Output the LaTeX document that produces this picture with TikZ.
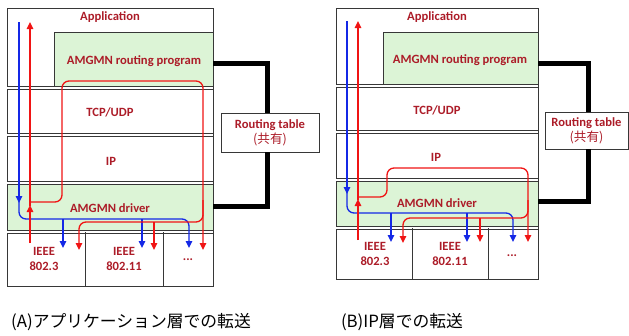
\documentclass[tikz,border=0pt]{standalone}
\usepackage{fontspec}
\setmainfont{Carlito}
\newfontfamily\cjk{Noto Sans CJK JP}
\usetikzlibrary{arrows.meta}
\definecolor{lblred}{RGB}{172,28,40}
\definecolor{boxgreen}{RGB}{220,244,214}
\definecolor{edgegray}{RGB}{55,55,55}
\definecolor{arrred}{RGB}{240,20,20}
\definecolor{arrblue}{RGB}{20,40,230}
\tikzset{
  layer/.style={draw=edgegray,line width=1pt},
  dbl/.style={draw=edgegray,double=white,double distance=1.3pt,line width=0.9pt},
  lbl/.style={text=lblred,font=\bfseries\fontsize{12.6}{14}\selectfont,align=center,inner sep=0pt},
  tbl/.style={draw=edgegray,line width=1pt,fill=white},
  link/.style={line width=5pt,draw=black},
  tip/.style={-{Triangle[length=7pt,width=6.5pt]}},
  rflow/.style={draw=arrred,line width=1.3pt,rounded corners=7pt},
  bflow/.style={draw=arrblue,line width=1.3pt,rounded corners=7pt},
  captext/.style={font=\cjk\fontsize{16.8}{18}\selectfont,inner sep=0pt}
}
\begin{document}
\begin{tikzpicture}[x=1pt,y=-1pt]
\useasboundingbox (0,0) rectangle (629,335);
% ================= (A) =================
\fill[boxgreen] (54,32) rectangle (213,88);
\fill[boxgreen] (7,183) rectangle (213,232);
\draw[layer] (54,88) -- (54,32) -- (213,32);
\draw[layer] (7,8) rectangle (213,286);
\draw[dbl] (7,88) -- (213,88);
\draw[dbl] (7,135) -- (213,135);
\draw[dbl] (7,183) -- (213,183);
\draw[dbl] (7,232) -- (213,232);
\draw[layer] (85,232) -- (85,286);
\draw[layer] (163,232) -- (163,286);
\node[lbl] (appA) at (110,17) {Application};
\node[lbl] (progA) at (134,61) {AMGMN routing program};
\node[lbl] (tcpA) at (110,112) {TCP/UDP};
\node[lbl] (ipA) at (111,161) {IP};
\node[lbl] (drvA) at (110,208) {AMGMN driver};
\node[lbl] (e3A) at (44,259) {IEEE\\[1pt]802.3};
\node[lbl] (e11A) at (124,259) {IEEE\\[1pt]802.11};
\node[lbl] (dotA) at (188,260) {...};
\node[tbl,minimum width=98pt,minimum height=39pt] (rtA) at (270,132.5) {};
\node[lbl] at (rtA) {Routing table\\[1pt]{\cjk\mdseries(共有)}};
\coordinate (pA) at (213,63);
\coordinate (dA) at (213,206);
\draw[link] (pA) -- (267,63) -- (267,113);
\draw[link] (267,152) -- (267,206) -- (dA);
% flows A
\draw[bflow,tip] (19,22) -- (19,203);
\draw[bflow,tip] (19,200) -- (19,219) -- (189,219) -- (189,248);
\draw[bflow,tip] (63,219) -- (63,248);
\draw[bflow,tip] (142,219) -- (142,248);
\draw[rflow,tip] (30,243) -- (30,205);
\draw[rflow,tip] (30,206) -- (30,22);
\draw[rflow,tip] (30,202) -- (62,202) -- (62,81) -- (203,81) -- (203,250);
\draw[rflow,tip] (203,200) -- (203,222) -- (79,222) -- (79,250);
\draw[rflow,tip] (154,222) -- (154,250);
% ================= (B) =================
\fill[boxgreen] (383,32) rectangle (538,86);
\fill[boxgreen] (336,180) rectangle (538,228);
\draw[layer] (383,86) -- (383,32) -- (538,32);
\draw[layer] (336,8) rectangle (538,279);
\draw[dbl] (336,86) -- (538,86);
\draw[dbl] (336,132) -- (538,132);
\draw[dbl] (336,180) -- (538,180);
\draw[dbl] (336,228) -- (538,228);
\draw[layer] (412,228) -- (412,279);
\draw[layer] (488,228) -- (488,279);
\node[lbl] (appB) at (437,17) {Application};
\node[lbl] (progB) at (460,60) {AMGMN routing program};
\node[lbl] (tcpB) at (437,110) {TCP/UDP};
\node[lbl] (ipB) at (436,157) {IP};
\node[lbl] (drvB) at (437,203) {AMGMN driver};
\node[lbl] (e3B) at (375,254) {IEEE\\[1pt]802.3};
\node[lbl] (e11B) at (450,254) {IEEE\\[1pt]802.11};
\node[lbl] (dotB) at (512,256) {...};
\node[tbl,minimum width=83pt,minimum height=37pt] (rtB) at (586.5,130.5) {};
\node[lbl] at (rtB) {Routing table\\[1pt]{\cjk\mdseries(共有)}};
\coordinate (pB) at (538,63);
\coordinate (dB) at (538,201);
\draw[link] (pB) -- (588,63) -- (588,112);
\draw[link] (588,149) -- (588,201) -- (dB);
% flows B
\draw[bflow,tip] (347,21) -- (347,194);
\draw[bflow,tip] (347,191) -- (347,213) -- (513,213) -- (513,242);
\draw[bflow,tip] (391,213) -- (391,242);
\draw[bflow,tip] (467,213) -- (467,242);
\draw[rflow,tip] (358,240) -- (358,199);
\draw[rflow,tip] (358,200) -- (358,21);
\draw[rflow,tip] (358,197) -- (387,197) -- (387,168) -- (528,168) -- (528,242);
\draw[rflow,tip] (528,200) -- (528,218) -- (403,218) -- (403,243);
\draw[rflow,tip] (480,218) -- (480,242);
% captions
\node[captext] (capA) at (131,322) {(A)アプリケーション層での転送};
\node[captext] (capB) at (402,322) {(B)IP層での転送};
\end{tikzpicture}
\end{document}
